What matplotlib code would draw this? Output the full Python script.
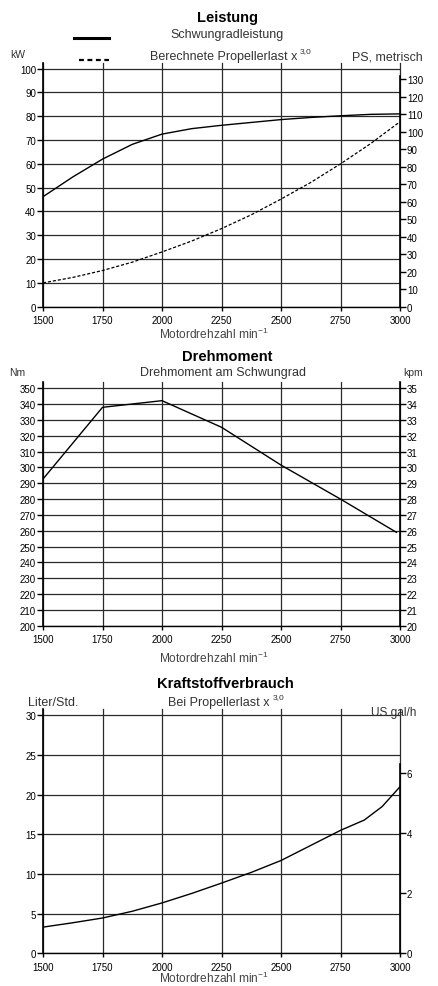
import matplotlib
matplotlib.use("Agg")
import matplotlib.pyplot as plt

plt.rcParams['font.family'] = ['Liberation Sans', 'DejaVu Sans']
plt.rcParams['mathtext.fontset'] = 'custom'
plt.rcParams['mathtext.rm'] = 'Liberation Sans'
plt.rcParams['mathtext.it'] = 'Liberation Sans'

# ---------------- data ----------------
rpm_ticks = [1500, 1750, 2000, 2250, 2500, 2750, 3000]

power_rpm = [1500, 1625, 1750, 1875, 2000, 2125, 2250, 2375, 2500, 2625, 2750, 2875, 3000]
power_kw = [46.2, 54.5, 62.0, 68.2, 72.5, 74.8, 76.2, 77.4, 78.6, 79.5, 80.2, 80.8, 81.0]

prop_rpm = [1500, 1625, 1750, 1875, 2000, 2125, 2250, 2375, 2500, 2625, 2750, 2875, 3000]
prop_kw = [10.0, 12.3, 15.2, 18.7, 23.0, 27.6, 32.8, 38.6, 45.2, 52.2, 60.0, 68.4, 77.7]

torque_rpm = [1500, 1750, 2000, 2250, 2500, 2750, 2985]
torque_nm = [292.7, 338.0, 342.2, 325.4, 301.5, 280.0, 259.0]

fuel_rpm = [1500, 1625, 1750, 1875, 2000, 2125, 2250, 2375, 2500, 2625, 2750, 2850, 2925, 3000]
fuel_lph = [3.3, 3.85, 4.45, 5.3, 6.35, 7.55, 8.85, 10.2, 11.7, 13.6, 15.5, 16.8, 18.5, 21.0]

kw_ticks = list(range(0, 101, 10))
ps_ticks = list(range(0, 131, 10))
nm_ticks = list(range(200, 351, 10))
kpm_ticks = list(range(20, 36, 1))
l_ticks = [0, 5, 10, 15, 20, 25, 30]
gal_ticks = [0, 2, 4, 6]

KW_PER_PS = 0.7355
NM_PER_KPM = 10.0
L_PER_GAL = 3.785

W, H = 438, 987
fig = plt.figure(figsize=(W / 100, H / 100), dpi=100)

GRID = '#2a2a2a'
TXT = '#333333'
TICKFS = 7
SUBFS = 9


def px(x, y):
    return x / W, 1 - y / H


def make_axes(top_px, bot_px):
    left = 43 / W
    width = 357 / W
    ax = fig.add_axes([left, 1 - bot_px / H, width, (bot_px - top_px) / H])
    ax.set_xlim(1500, 3000)
    ax.set_xticks(rpm_ticks)
    ax.set_xticklabels([str(t) for t in rpm_ticks], fontsize=TICKFS)
    for s in ['top', 'right']:
        ax.spines[s].set_visible(False)
    ax.spines['left'].set_linewidth(1.2)
    ax.spines['bottom'].set_linewidth(1.0)
    ax.tick_params(axis='y', direction='out', length=4, width=1, pad=1, labelsize=TICKFS)
    ax.tick_params(axis='x', direction='out', length=3, width=1, pad=3, labelsize=TICKFS)
    ax.grid(True, color=GRID, linewidth=0.9)
    ax.set_axisbelow(True)
    for gl in ax.get_xgridlines():
        gl.set_clip_on(False)
    return ax


def right_axis(ax, lo, hi, ticks, bounds):
    ax2 = ax.twinx()
    ax2.set_ylim(lo, hi)
    ax2.set_yticks(ticks)
    ax2.set_yticklabels([str(t) for t in ticks], fontsize=TICKFS)
    for s in ['top', 'left', 'bottom']:
        ax2.spines[s].set_visible(False)
    ax2.spines['right'].set_bounds(*bounds)
    ax2.spines['right'].set_linewidth(1.2)
    ax2.tick_params(axis='y', direction='out', length=4, width=1, pad=1, labelsize=TICKFS)
    return ax2


def xlabel(y):
    fig.text(*px(214, y), r'Motordrehzahl min$^{-1}$', ha='center', va='center',
             fontsize=8.6, color='#444444')


# ---------------- Leistung ----------------
ax1 = make_axes(63.7, 307.7)
ax1.set_ylim(0, 102.5)
ax1.set_yticks(kw_ticks)
ax1.set_yticklabels([str(t) for t in kw_ticks], fontsize=TICKFS)
ax1.plot(power_rpm, power_kw, color='black', lw=1.0, solid_capstyle='butt')
ax1.plot(prop_rpm, prop_kw, color='black', lw=0.9, linestyle=(0, (2.5, 1.5)))
right_axis(ax1, 0, 102.5 / KW_PER_PS, ps_ticks, (0, 132))

fig.text(*px(227, 18), 'Leistung', ha='center', va='center', fontsize=10.5, fontweight='bold')
fig.add_artist(plt.Line2D([74 / W, 109 / W], [1 - 39 / H, 1 - 39 / H], color='black', lw=2.2))
fig.add_artist(plt.Line2D([79 / W, 109 / W], [1 - 61 / H, 1 - 61 / H], color='black', lw=1.6,
                          linestyle=(0, (2.2, 1.6))))
fig.text(*px(227, 35), 'Schwungradleistung', ha='center', va='center', fontsize=SUBFS, color=TXT)
fig.text(*px(297, 57), 'Berechnete Propellerlast x', ha='right', va='center', fontsize=SUBFS, color=TXT)
fig.text(*px(300, 52), '3,0', ha='left', va='center', fontsize=6, color=TXT)
fig.text(*px(18, 55), 'kW', ha='center', va='center', fontsize=7.5, color=TXT)
fig.text(*px(423, 57), 'PS, metrisch', ha='right', va='center', fontsize=8.9, color=TXT)
xlabel(334)

# ---------------- Drehmoment ----------------
ax2 = make_axes(383, 626.7)
ax2.set_ylim(200, 354)
ax2.set_yticks(nm_ticks)
ax2.set_yticklabels([str(t) for t in nm_ticks], fontsize=TICKFS)
ax2.plot(torque_rpm, torque_nm, color='black', lw=1.0)
right_axis(ax2, 200 / NM_PER_KPM, 354 / NM_PER_KPM, kpm_ticks, (20, 35.4))

fig.text(*px(227, 357), 'Drehmoment', ha='center', va='center', fontsize=10.5, fontweight='bold')
fig.text(*px(223, 373), 'Drehmoment am Schwungrad', ha='center', va='center', fontsize=SUBFS, color=TXT)
fig.text(*px(17, 373), 'Nm', ha='center', va='center', fontsize=7.5, color=TXT)
fig.text(*px(413, 373), 'kpm', ha='center', va='center', fontsize=7.5, color=TXT)
xlabel(658)

# ---------------- Kraftstoffverbrauch ----------------
ax3 = make_axes(710, 954.3)
ax3.set_ylim(0, 30.8)
ax3.set_yticks(l_ticks)
ax3.set_yticklabels([str(t) for t in l_ticks], fontsize=TICKFS)
ax3.plot(fuel_rpm, fuel_lph, color='black', lw=1.0)
right_axis(ax3, 0, 30.8 / L_PER_GAL, gal_ticks, (0, 6.3))

fig.text(*px(225, 684), 'Kraftstoffverbrauch', ha='center', va='center', fontsize=10.5, fontweight='bold')
fig.text(*px(270, 703), 'Bei Propellerlast x', ha='right', va='center', fontsize=SUBFS, color=TXT)
fig.text(*px(273, 698), '3,0', ha='left', va='center', fontsize=6, color=TXT)
fig.text(*px(53, 703), 'Liter/Std.', ha='center', va='center', fontsize=SUBFS, color=TXT)
fig.text(*px(394, 713), 'US gal/h', ha='center', va='center', fontsize=8.6, color=TXT)
xlabel(978.5)

fig.savefig('out.png', dpi=100)
